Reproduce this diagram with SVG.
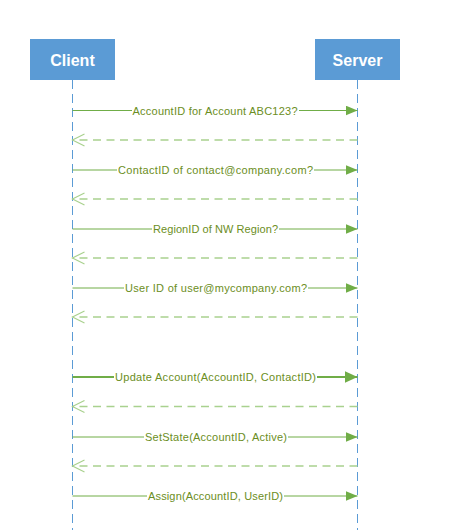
<svg xmlns="http://www.w3.org/2000/svg" width="453" height="530" viewBox="0 0 453 530">
<style>
.box{fill:#5B9BD5;}
.hdr{font-family:"Liberation Sans",Arial,sans-serif;font-size:16px;font-weight:bold;fill:#FFFFFF;text-anchor:middle;}
.life{stroke:#5B9BD5;stroke-width:1;stroke-dasharray:9 5;fill:none;}
.req{stroke:#70AD47;stroke-width:1;fill:none;}
.req2{stroke:#70AD47;stroke-width:2;fill:none;}
.ret{stroke:#A9D18E;stroke-width:1.5;stroke-dasharray:8 5.5;fill:none;}
.lbl{font-family:"Liberation Sans",Arial,sans-serif;font-size:11px;fill:#6B8E23;text-anchor:middle;}
.bg{fill:#FFFFFF;}
</style>
<defs>
<marker id="fill" markerWidth="12" markerHeight="10" refX="12" refY="5" orient="auto" markerUnits="userSpaceOnUse">
<path d="M0,0 L12,5 L0,10 Z" fill="#70AD47"/>
</marker>
<marker id="fill2" markerWidth="13" markerHeight="12" refX="13" refY="6" orient="auto" markerUnits="userSpaceOnUse">
<path d="M0,0 L13,6 L0,12 Z" fill="#70AD47"/>
</marker>
<marker id="open" markerWidth="14" markerHeight="14" refX="12" refY="7" orient="auto" markerUnits="userSpaceOnUse">
<path d="M0,1 L12,7 L0,13" fill="none" stroke="#A9D18E" stroke-width="1.2"/>
</marker>
</defs>

<g id="client">
<rect class="box" x="30" y="39" width="85" height="41"/>
<text class="hdr" x="72.5" y="65.5">Client</text>
<line class="life" x1="72.5" y1="80" x2="72.5" y2="530"/>
</g>
<g id="server">
<rect class="box" x="315" y="39" width="85" height="41"/>
<text class="hdr" x="357.5" y="65.5">Server</text>
<line class="life" x1="357.5" y1="80" x2="357.5" y2="530"/>
</g>

<g id="connectors">
<line class="req" x1="72.5" y1="110.5" x2="357.5" y2="110.5" marker-end="url(#fill)"/>
<line class="ret" x1="357.5" y1="140" x2="72.5" y2="140" marker-end="url(#open)"/>
<line class="req" x1="72.5" y1="170" x2="357.5" y2="170" marker-end="url(#fill)"/>
<line class="ret" x1="357.5" y1="199" x2="72.5" y2="199" marker-end="url(#open)"/>
<line class="req" x1="72.5" y1="229" x2="357.5" y2="229" marker-end="url(#fill)"/>
<line class="ret" x1="357.5" y1="258" x2="72.5" y2="258" marker-end="url(#open)"/>
<line class="req" x1="72.5" y1="288" x2="357.5" y2="288" marker-end="url(#fill)"/>
<line class="ret" x1="357.5" y1="317" x2="72.5" y2="317" marker-end="url(#open)"/>
<line class="req2" x1="72.5" y1="377" x2="357.5" y2="377" marker-end="url(#fill2)"/>
<line class="ret" x1="357.5" y1="406.5" x2="72.5" y2="406.5" marker-end="url(#open)"/>
<line class="req" x1="72.5" y1="437" x2="357.5" y2="437" marker-end="url(#fill)"/>
<line class="ret" x1="357.5" y1="466" x2="72.5" y2="466" marker-end="url(#open)"/>
<line class="req" x1="72.5" y1="496" x2="357.5" y2="496" marker-end="url(#fill)"/>

<rect class="bg" x="132" y="104" width="167" height="13"/>
<text class="lbl" x="215" y="114.5" textLength="165" lengthAdjust="spacing">AccountID for Account ABC123?</text>
<rect class="bg" x="117" y="163.5" width="197" height="13"/>
<text class="lbl" x="215.5" y="174" textLength="195" lengthAdjust="spacing">ContactID of contact@company.com?</text>
<rect class="bg" x="152" y="222.5" width="127" height="13"/>
<text class="lbl" x="215.5" y="233" textLength="125" lengthAdjust="spacing">RegionID of NW Region?</text>
<rect class="bg" x="124" y="281.5" width="184" height="13"/>
<text class="lbl" x="216" y="292" textLength="182" lengthAdjust="spacing">User ID of user@mycompany.com?</text>
<rect class="bg" x="114" y="370.5" width="203" height="13"/>
<text class="lbl" x="215.5" y="381" textLength="201" lengthAdjust="spacing">Update Account(AccountID, ContactID)</text>
<rect class="bg" x="144" y="430.5" width="144" height="13"/>
<text class="lbl" x="216" y="441" textLength="142" lengthAdjust="spacing">SetState(AccountID, Active)</text>
<rect class="bg" x="147" y="489.5" width="137" height="13"/>
<text class="lbl" x="215.5" y="500" textLength="135" lengthAdjust="spacing">Assign(AccountID, UserID)</text>
</g>
</svg>
